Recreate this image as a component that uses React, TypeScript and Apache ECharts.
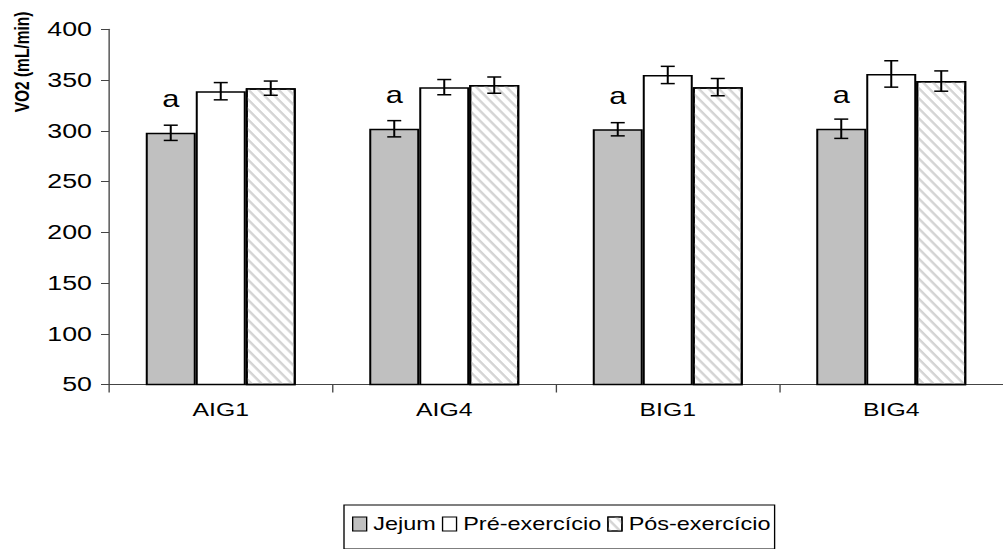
import React, { useEffect, useRef } from 'react';
import * as echarts from 'echarts';

// Groups and measured VO2 (mL/min): means and error-bar half lengths
const categories = ['AIG1', 'AIG4', 'BIG1', 'BIG4'];
const seriesNames = ['Jejum', 'Pré-exercício', 'Pós-exercício'];
const jejum = [298, 302, 301.5, 302];
const jejumErr = [7.5, 8, 6.5, 9.5];
const pre = [339, 343, 355, 356];
const preErr = [8.5, 7.5, 8.5, 13];
const pos = [342, 345, 343, 349];
const posErr = [7, 8, 8.5, 10];
// Significance letters shown above the fasting bars
const jejumMarks = ['a', 'a', 'a', 'a'];
const yMin = 50;
const yMax = 400;
const yStep = 50;

const FONT = '"Liberation Sans", Arial, sans-serif';

// The chart is laid out on a narrower canvas and widened horizontally,
// which gives the broad, stretched lettering of the original figure.
const OUT_W = 1003;
const OUT_H = 549;
const INNER_W = 749;
const SX = OUT_W / INNER_W;
const hx = (v: number) => v / SX; // horizontal page pixels -> inner pixels

const BAR_W = hx(50);
const CAP_HALF = hx(7);

function errorSeries(means: number[], errs: number[], slot: number) {
  return {
    type: 'custom',
    silent: true,
    z: 10,
    encode: { x: 0, y: [1, 2] },
    data: means.map((m, i) => [i, m - errs[i], m + errs[i]]),
    renderItem: (_params: any, api: any) => {
      const lo = api.coord([api.value(0), api.value(1)]);
      const hi = api.coord([api.value(0), api.value(2)]);
      const x = lo[0] + slot * BAR_W;
      const style = { stroke: '#000', lineWidth: 1.5 };
      return {
        type: 'group',
        children: [
          { type: 'line', shape: { x1: x, y1: lo[1], x2: x, y2: hi[1] }, style },
          { type: 'line', shape: { x1: x - CAP_HALF, y1: hi[1], x2: x + CAP_HALF, y2: hi[1] }, style },
          { type: 'line', shape: { x1: x - CAP_HALF, y1: lo[1], x2: x + CAP_HALF, y2: lo[1] }, style },
        ],
      };
    },
  };
}

export default function App() {
  const ref = useRef<HTMLDivElement>(null);

  useEffect(() => {
    if (!ref.current) return;
    const chart = echarts.init(ref.current, undefined, { renderer: 'svg' });
    const barBorder = { borderColor: '#000', borderWidth: 1.5 };

    chart.setOption({
      animation: false,
      backgroundColor: '#fff',
      textStyle: { fontFamily: FONT },
      grid: { left: hx(109), top: 29.3, width: hx(900), height: 355.2, containLabel: false },
      xAxis: {
        type: 'category',
        data: categories,
        axisLine: { show: true, lineStyle: { color: '#444', width: 1 } },
        axisTick: { show: true, length: 8, lineStyle: { color: '#444' } },
        axisLabel: { color: '#000', fontSize: 18.5, fontFamily: FONT, margin: 16 },
      },
      yAxis: {
        type: 'value',
        min: yMin,
        max: yMax,
        interval: yStep,
        axisLine: { show: true, lineStyle: { color: '#444', width: 1 } },
        axisTick: { show: true, length: hx(8), lineStyle: { color: '#444' } },
        axisLabel: { color: '#000', fontSize: 20, fontFamily: FONT, margin: hx(17) },
        splitLine: { show: false },
      },
      legend: {
        data: seriesNames,
        left: hx(344),
        top: 505,
        icon: 'rect',
        itemWidth: hx(14),
        itemHeight: 14,
        itemGap: hx(6),
        borderColor: '#000',
        borderWidth: 1,
        borderRadius: 0,
        padding: [10, hx(4), 16, hx(8)],
        itemStyle: { borderColor: '#000', borderWidth: 1 },
        textStyle: { color: '#000', fontSize: 17.5, fontFamily: FONT, padding: [0, 0, 0, 0] },
      },
      graphic: [
        {
          type: 'text',
          x: hx(22),
          y: 62,
          rotation: Math.PI / 2,
          style: {
            text: 'VO2 (mL/min)',
            fill: '#000',
            font: `bold 15.5px ${FONT}`,
            align: 'center',
            verticalAlign: 'middle',
          },
        },
      ],
      series: [
        {
          name: seriesNames[0],
          type: 'bar',
          barWidth: BAR_W,
          barGap: '0%',
          data: jejum.map((v, i) => ({
            value: v,
            label: {
              show: true,
              position: 'top',
              distance: 22,
              formatter: () => jejumMarks[i],
              color: '#000',
              fontSize: 23,
              fontFamily: FONT,
            },
          })),
          itemStyle: { color: '#c0c0c0', ...barBorder },
        },
        {
          name: seriesNames[1],
          type: 'bar',
          barWidth: BAR_W,
          barGap: '0%',
          data: pre,
          itemStyle: { color: '#ffffff', ...barBorder },
        },
        {
          name: seriesNames[2],
          type: 'bar',
          barWidth: BAR_W,
          barGap: '0%',
          data: pos,
          itemStyle: {
            color: '#ffffff',
            ...barBorder,
            decal: {
              symbol: 'rect',
              symbolSize: 1,
              color: '#d4d4d4',
              dashArrayX: [1, 0],
              dashArrayY: [1.5, 3.3],
              rotation: Math.atan(SX),
            },
          },
        },
        errorSeries(jejum, jejumErr, -1),
        errorSeries(pre, preErr, 0),
        errorSeries(pos, posErr, 1),
      ],
    });

    return () => chart.dispose();
  }, []);

  return (
    <div style={{ position: 'absolute', left: 0, top: 0, width: OUT_W, height: OUT_H, overflow: 'hidden', background: '#fff' }}>
      <div
        ref={ref}
        style={{ width: INNER_W, height: OUT_H, transform: `scaleX(${SX})`, transformOrigin: '0 0' }}
      />
    </div>
  );
}
